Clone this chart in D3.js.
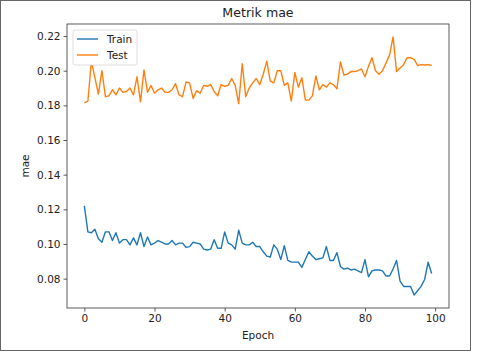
<!DOCTYPE html>
<html>
<head>
<meta charset="utf-8">
<script src="https://cdn.jsdelivr.net/npm/d3@7"></script>
<style>
  body { margin: 0; background: #fff; }
  svg { display: block; font-family: "DejaVu Sans", sans-serif; }
</style>
</head>
<body>
<svg id="chart"></svg>
<script>
// values
const train = [
  0.122, 0.107, 0.1065, 0.1085, 0.103, 0.101, 0.107, 0.107, 0.102, 0.1065,
  0.1005, 0.1025, 0.1025, 0.0995, 0.1035, 0.0995, 0.1065, 0.0985, 0.104, 0.0995,
  0.1005, 0.102, 0.101, 0.1, 0.1, 0.102, 0.0995, 0.1005, 0.1005, 0.098,
  0.0985, 0.101, 0.1005, 0.1, 0.097, 0.0965, 0.097, 0.1025, 0.0975, 0.0975,
  0.107, 0.1005, 0.0995, 0.097, 0.108, 0.1005, 0.0995, 0.0995, 0.101, 0.0985,
  0.0985, 0.0955, 0.093, 0.0925, 0.0995, 0.097, 0.091, 0.099, 0.0905, 0.0895,
  0.0895, 0.0895, 0.0865, 0.091, 0.0955, 0.093, 0.091, 0.0915, 0.092, 0.0985,
  0.0905, 0.0905, 0.095, 0.087, 0.0855, 0.086, 0.085, 0.0855, 0.0845, 0.0835,
  0.091, 0.081, 0.0845, 0.085, 0.085, 0.0845, 0.0815, 0.0815, 0.0855, 0.0905,
  0.0785, 0.0755, 0.0755, 0.0755, 0.0705, 0.073, 0.0755, 0.0795, 0.0895, 0.083
]
const test = [
  0.1814, 0.1824, 0.2055, 0.196, 0.1865, 0.2, 0.185, 0.1855, 0.189, 0.186,
  0.19, 0.1875, 0.188, 0.19, 0.186, 0.1965, 0.182, 0.2005, 0.1875, 0.1915,
  0.187, 0.189, 0.19, 0.1875, 0.1875, 0.189, 0.1925, 0.186, 0.185, 0.1935,
  0.193, 0.184, 0.1885, 0.187, 0.1915, 0.191, 0.192, 0.188, 0.1855, 0.192,
  0.191, 0.1915, 0.1955, 0.1915, 0.181, 0.204, 0.185, 0.19, 0.193, 0.1955,
  0.192, 0.198, 0.2055, 0.194, 0.193, 0.2, 0.2, 0.1915, 0.193, 0.1825,
  0.199, 0.1905, 0.196, 0.183, 0.183, 0.1855, 0.197, 0.189, 0.192, 0.1905,
  0.193, 0.192, 0.1895, 0.205, 0.1975, 0.198, 0.1995, 0.1995, 0.2, 0.201,
  0.1965, 0.2025, 0.2075, 0.2, 0.198, 0.2, 0.2045, 0.209, 0.2195, 0.1995,
  0.2015, 0.2035, 0.2075, 0.2075, 0.2065, 0.203, 0.2035, 0.2033, 0.2035, 0.203
]
const xTicks = [0, 20, 40, 60, 80, 100]
const yTicks = [0.08, 0.10, 0.12, 0.14, 0.16, 0.18, 0.20, 0.22]
const seriesNames = ["Train", "Test"]
const seriesColors = ["#1f77b4", "#ff7f0e"]

let width = 480
let height = 361
let margin = {left: 67, right: 31, top: 24, bottom: 53}

let svg = d3.select("#chart")
    .attr("width", width)
    .attr("height", height)

// figure frame
svg.append("rect")
    .attr("x", 0.5).attr("y", 0.5)
    .attr("width", 470).attr("height", 350)
    .attr("fill", "#fff")
    .attr("stroke", "#666")
    .attr("stroke-width", 1)

let n = train.length
let allVals = train.concat(test)
let yMin = d3.min(allVals), yMax = d3.max(allVals)
let yPad = (yMax - yMin) * 0.05
let xPad = (n - 1) * 0.05

let xScale = d3.scaleLinear()
    .domain([-xPad, n - 1 + xPad])
    .range([margin.left, width - margin.right])

let yScale = d3.scaleLinear()
    .domain([yMin - yPad, yMax + yPad])
    .range([height - margin.bottom, margin.top])

let xAxis = svg.append("g")
    .attr("transform", "translate(0," + (height - margin.bottom) + ")")
    .call(d3.axisBottom(xScale).tickValues(xTicks).tickSize(3.5).tickPadding(3).tickFormat(d3.format("d")))

let yAxis = svg.append("g")
    .attr("transform", "translate(" + margin.left + ",0)")
    .call(d3.axisLeft(yScale).tickValues(yTicks).tickSize(3.5).tickPadding(3).tickFormat(d3.format(".2f")))

for (let ax of [xAxis, yAxis]) {
    ax.select(".domain").remove()
    ax.selectAll("line").attr("stroke", "#333").attr("stroke-width", 0.8)
    ax.selectAll("text").attr("fill", "#222").style("font-size", "10.5px").style("font-family", "DejaVu Sans")
}

// box
svg.append("rect")
    .attr("x", margin.left).attr("y", margin.top)
    .attr("width", width - margin.left - margin.right)
    .attr("height", height - margin.top - margin.bottom)
    .attr("fill", "none")
    .attr("stroke", "#333")
    .attr("stroke-width", 0.8)

let line = d3.line()
    .x((d, i) => xScale(i))
    .y(d => yScale(d))

let data = [train, test]
svg.selectAll(".series").data(data)
    .enter()
    .append("path")
    .attr("class", "series")
    .attr("d", line)
    .attr("fill", "none")
    .attr("stroke", (d, i) => seriesColors[i])
    .attr("stroke-width", 1.4)
    .attr("stroke-linejoin", "round")

// title and labels
svg.append("text")
    .attr("x", (margin.left + width - margin.right) / 2)
    .attr("y", 17)
    .attr("text-anchor", "middle")
    .style("font-size", "12.6px")
    .attr("fill", "#222")
    .text("Metrik mae")

svg.append("text")
    .attr("x", (margin.left + width - margin.right) / 2)
    .attr("y", 339)
    .attr("text-anchor", "middle")
    .style("font-size", "10.5px")
    .attr("fill", "#222")
    .text("Epoch")

svg.append("text")
    .attr("transform", "translate(29," + ((margin.top + height - margin.bottom) / 2) + ") rotate(-90)")
    .attr("text-anchor", "middle")
    .style("font-size", "10.5px")
    .attr("fill", "#222")
    .text("mae")

// legend
let legend = svg.append("g").attr("transform", "translate(73,30)")
legend.append("rect")
    .attr("width", 64).attr("height", 35)
    .attr("rx", 2)
    .attr("fill", "#fff")
    .attr("stroke", "#d6d6d6")
    .attr("stroke-width", 0.8)

let items = legend.selectAll(".item").data(seriesNames)
    .enter()
    .append("g")
    .attr("class", "item")
    .attr("transform", (d, i) => "translate(0," + (9 + i * 16) + ")")

items.append("line")
    .attr("x1", 4).attr("x2", 25)
    .attr("stroke", (d, i) => seriesColors[i])
    .attr("stroke-width", 1.4)

items.append("text")
    .attr("x", 34).attr("y", 3.8)
    .style("font-size", "10.5px")
    .attr("fill", "#222")
    .text(d => d)
</script>
</body>
</html>
